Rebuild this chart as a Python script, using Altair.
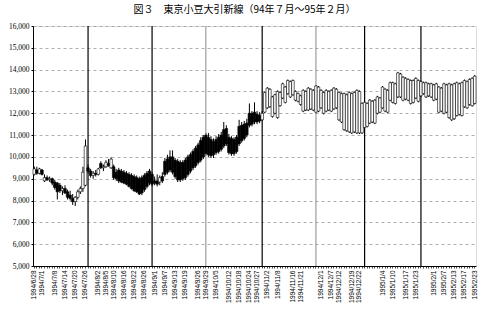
import json
import altair as alt
import pandas as pd

# trading-day slots (weekdays) from 1994/6/28 to 1995/2/23
trading_days = pd.bdate_range("1994-06-28", "1995-02-23")
dates = [f"{d.year}/{d.month}/{d.day}" for d in trading_days]

opens = [
    9200, 9400, 9250, 9400, 8900, 9050, 8950, 9000, 8850, 8800,
    8700, 8450, 8550, 8400, 8250, 8100, 7950, 8150, 8400, 8550,
    8700, 9500, 9350, 9150, 9250, 9200, 9700, 9500, 9550, 9700,
    9500, 9550, 9300, 9400, 9350, 9300, 9250, 9200, 9150, 9100,
    9050, 9000, 9050, 9150, 9250, 9350, 9200, 8900, 8900, 8850,
    9100, 9800, 9900, 10000, 10000, 9850, 9800, 9750, 9750, 9850,
    10000, 10100, 10250, 10400, 10550, 10750, 10900, 11000, 10900, 10800,
    10700, 10800, 10900, 11000, 11250, 11300, 10900, 10850, 10800, 10900,
    11400, 11450, 11500, 11550, 12000, 12000, 12050, 11950, 11900, 11700,
    12050, 12250, 12300, 11850, 12000, 11800, 12350, 12700, 12500, 12900,
    12750, 12850, 12600, 12550, 12400, 12100, 12150, 12150, 12200, 12150,
    12050, 12100, 12250, 12000, 12100, 12150, 12100, 12200, 12250, 11700,
    11600, 11250, 11200, 11150, 11100, 11150, 11100, 11100, 11100, 11350,
    11400, 11550, 11600, 11550, 12000, 12050, 12250, 12100, 12050, 12600,
    12500, 12450, 12750, 12750, 12600, 12650, 12600, 12450, 12500, 12700,
    12550, 12800, 12900, 12750, 12800, 12750, 12600, 12650, 12050, 12100,
    12000, 12050, 11800, 11700, 11750, 11900, 11950, 11900, 12300, 12250,
    12400, 12350, 12450,
]
highs = [
    9560, 9550, 9500, 9450, 9200, 9150, 9100, 9050, 8950, 8850,
    8800, 8650, 8700, 8500, 8450, 8300, 8200, 8500, 8650, 9550,
    10800, 9650, 9450, 9350, 9400, 9500, 9800, 9650, 9850, 9900,
    9980, 9650, 9450, 9500, 9450, 9400, 9350, 9300, 9250, 9200,
    9150, 9100, 9150, 9250, 9350, 9450, 9300, 9100, 9200, 9150,
    9300, 9950, 10100, 10300, 10300, 9950, 9900, 9850, 9850, 9950,
    10100, 10200, 10350, 10500, 10650, 10900, 11000, 11100, 11100, 10950,
    10850, 10950, 11050, 11150, 11600, 11450, 11050, 10950, 10900, 11000,
    11700, 11600, 11650, 11750, 12450, 12100, 12500, 12100, 12050, 12100,
    13000, 13200, 13150, 12800, 12900, 13050, 13000, 13400, 13250, 13550,
    13500, 13550, 13050, 12950, 12850, 13100, 13050, 13200, 13150, 13100,
    13300, 13250, 13100, 13000, 13100, 13050, 13100, 13200, 13150, 13000,
    12950, 12950, 12900, 13000, 12950, 13000, 13100, 13050, 12500, 12550,
    12500, 12650, 12600, 12650, 12800, 12750, 13250, 13150, 13100, 13450,
    13450, 13400, 13900, 13850, 13700, 13650, 13600, 13550, 13550, 13650,
    13550, 13500, 13450, 13450, 13400, 13400, 13350, 13400, 13250, 13200,
    13400, 13350, 13400, 13350, 13400, 13450, 13400, 13450, 13550, 13500,
    13600, 13650, 13750,
]
lows = [
    9150, 9180, 9200, 9150, 8850, 8900, 8850, 8700, 8500, 8050,
    8350, 8250, 8300, 8050, 8000, 7800, 7750, 8050, 8300, 8400,
    8650, 9250, 9050, 9000, 9100, 9150, 9450, 9350, 9500, 9550,
    9450, 8950, 8900, 8800, 8800, 8750, 8700, 8600, 8500, 8400,
    8350, 8250, 8250, 8400, 8550, 8700, 8650, 8700, 8650, 8700,
    8800, 9100, 9200, 9300, 9200, 9000, 8850, 8850, 8900, 8950,
    9100, 9250, 9400, 9500, 9650, 9750, 9900, 10050, 10000, 9950,
    9950, 10100, 10150, 10250, 10400, 10500, 10100, 10050, 10050, 10150,
    10500, 10650, 10750, 10900, 11350, 11400, 11500, 11500, 11550, 11650,
    12000, 12200, 12250, 11800, 11950, 11750, 12300, 12650, 12450, 12850,
    12700, 12800, 12550, 12500, 12350, 12050, 12100, 12100, 12150, 12100,
    12000, 12050, 12200, 11950, 12050, 12100, 12050, 12150, 12200, 11650,
    11550, 11200, 11150, 11100, 11050, 11100, 11050, 11050, 11050, 11300,
    11350, 11500, 11550, 11500, 11950, 12000, 12200, 12050, 12000, 12550,
    12450, 12400, 12700, 12700, 12550, 12600, 12550, 12400, 12450, 12650,
    12500, 12750, 12850, 12700, 12750, 12700, 12550, 12600, 12000, 12050,
    11950, 12000, 11750, 11650, 11700, 11850, 11900, 11850, 12250, 12200,
    12350, 12300, 12400,
]
closes = [
    9450, 9250, 9450, 9200, 9050, 8950, 9000, 8800, 8600, 8400,
    8450, 8550, 8350, 8150, 8100, 7950, 8150, 8400, 8550, 9300,
    10500, 9350, 9150, 9250, 9200, 9450, 9500, 9550, 9750, 9600,
    9900, 9050, 9000, 8900, 8850, 8800, 8750, 8650, 8550, 8450,
    8400, 8300, 8350, 8500, 8650, 8800, 8750, 8800, 8750, 9050,
    8900, 9200, 9300, 9400, 9300, 9100, 8950, 8950, 9000, 9050,
    9200, 9350, 9500, 9600, 9750, 9850, 10000, 10150, 10100, 10050,
    10100, 10200, 10250, 10350, 10500, 10600, 10200, 10150, 10150, 10250,
    10600, 10750, 10850, 11000, 11450, 11500, 11600, 11600, 11650, 12000,
    12950, 13150, 13100, 12750, 12850, 13000, 12950, 13350, 13200, 13500,
    13450, 13500, 13000, 12900, 12800, 13050, 13000, 13150, 13100, 13050,
    13250, 13200, 13050, 12950, 13050, 13000, 13050, 13150, 13100, 12950,
    12900, 12900, 12850, 12950, 12900, 12950, 13050, 13000, 12450, 12500,
    12450, 12600, 12550, 12600, 12750, 12700, 13200, 13100, 13050, 13400,
    13400, 13350, 13850, 13800, 13650, 13600, 13550, 13500, 13500, 13600,
    13500, 13450, 13400, 13400, 13350, 13350, 13300, 13350, 13200, 13150,
    13350, 13300, 13350, 13300, 13350, 13400, 13350, 13400, 13500, 13450,
    13550, 13600, 13700,
]

label_dates = [
    "1994/6/28", "1994/7/1", "1994/7/8", "1994/7/14", "1994/7/20", "1994/7/26",
    "1994/8/2", "1994/8/5", "1994/8/10", "1994/8/16", "1994/8/22", "1994/8/26",
    "1994/9/1", "1994/9/7", "1994/9/13", "1994/9/19", "1994/9/26", "1994/9/29",
    "1994/10/5", "1994/10/12", "1994/10/18", "1994/10/24", "1994/10/27",
    "1994/11/2", "1994/11/8", "1994/11/16", "1994/11/21",
    "1994/12/1", "1994/12/7", "1994/12/12", "1994/12/19", "1994/12/22",
    "1995/1/4", "1995/1/10", "1995/1/17", "1995/1/23",
    "1995/2/1", "1995/2/7", "1995/2/13", "1995/2/17", "1995/2/23",
]
y_ticks = [5000, 6000, 7000, 8000, 9000, 10000, 11000, 12000, 13000, 14000, 15000, 16000]

strong_line_dates = ["1994/7/27", "1994/8/31", "1994/10/31", "1994/12/26", "1995/1/25"]
faint_line_dates = ["1994/9/29", "1994/11/29"]

title_text = "図３　東京小豆大引新線（94年７月～95年２月）"

df = pd.DataFrame({"date": dates, "open": opens, "high": highs, "low": lows, "close": closes})

x_axis = alt.Axis(
    title=None,
    labelExpr=f"indexof({json.dumps(label_dates)}, datum.value) >= 0 ? datum.value : ''",
    labelAngle=270, labelAlign="right", labelBaseline="middle",
    labelFontSize=6.5, labelFont="Liberation Sans", labelColor="black",
    labelOverlap=False, labelPadding=2, tickSize=2, tickColor="black",
    tickWidth=0.7, domainColor="black", grid=False,
)
x_scale = alt.Scale(domain=dates, paddingInner=0, paddingOuter=0)
x_enc = alt.X("date:O", scale=x_scale, axis=x_axis)

y_scale = alt.Scale(domain=[5000, 16000], nice=False, zero=False)
y_axis = alt.Axis(
    title=None, values=y_ticks, format=",d",
    labelFontSize=7.5, labelFont="Liberation Serif", labelColor="black",
    tickSize=2, tickColor="black", domainColor="black", labelPadding=2,
    grid=True, gridDash=[3, 3], gridColor="#9a9a9a", gridWidth=0.8,
)

wicks = alt.Chart(df).mark_rule(color="black", strokeWidth=1).encode(
    x=x_enc,
    y=alt.Y("low:Q", scale=y_scale, axis=y_axis),
    y2="high:Q",
)
bodies = alt.Chart(df).mark_bar(size=2.6, stroke="black", strokeWidth=0.6).encode(
    x=x_enc,
    y=alt.Y("open:Q", scale=y_scale, axis=y_axis),
    y2="close:Q",
    fill=alt.condition("datum.close < datum.open", alt.value("black"), alt.value("white")),
)
strong_lines = alt.Chart(pd.DataFrame({"date": strong_line_dates})).mark_rule(
    color="black", strokeWidth=1.2
).encode(x=x_enc)
faint_lines = alt.Chart(pd.DataFrame({"date": faint_line_dates})).mark_rule(
    color="#8a8a8a", strokeWidth=1
).encode(x=x_enc)

chart = alt.layer(wicks, faint_lines, strong_lines, bodies).properties(
    width=443,
    height=240,
    title=alt.TitleParams(
        title_text, font="Noto Sans CJK JP", fontSize=10, fontWeight="normal",
        anchor="middle", offset=7, dx=-10, color="black",
    ),
    autosize=alt.AutoSizeParams(type="none"),
    padding={"left": 33, "top": 26, "right": 8, "bottom": 44},
).configure_view(
    stroke="black", strokeWidth=1
).configure(background="white")

chart.save("out.html", embed_options={"renderer": "svg", "actions": False})
